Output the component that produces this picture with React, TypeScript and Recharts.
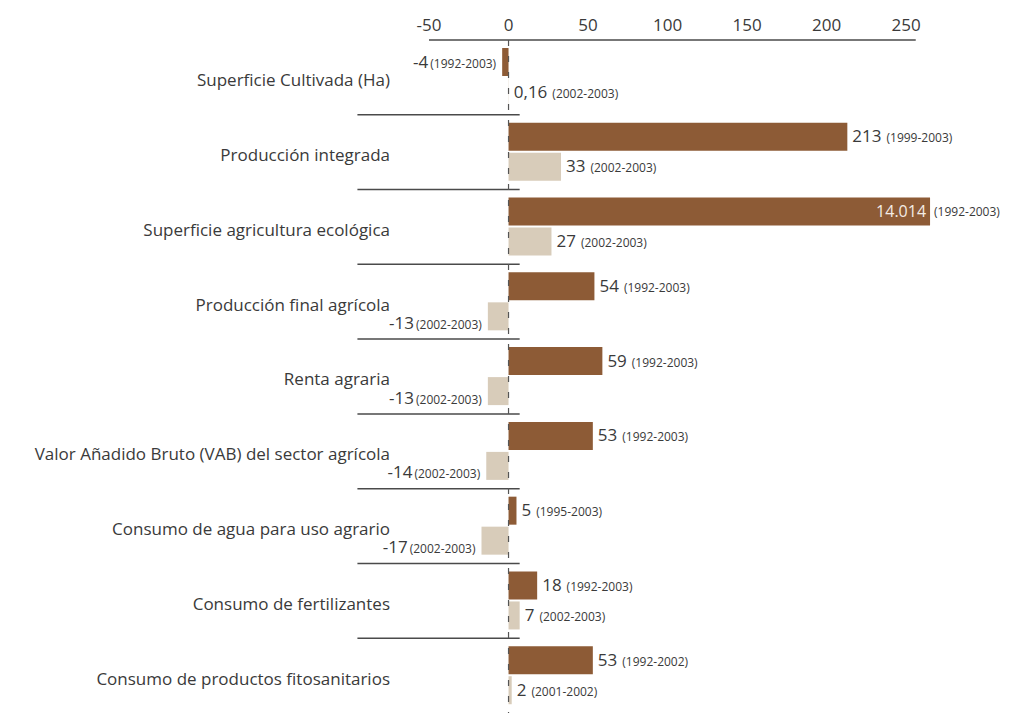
import React from 'react';
import { BarChart, Bar, XAxis, YAxis, ReferenceLine, LabelList } from 'recharts';

const categories = [
  'Superficie Cultivada (Ha)',
  'Producción integrada',
  'Superficie agricultura ecológica',
  'Producción final agrícola',
  'Renta agraria',
  'Valor Añadido Bruto (VAB) del sector agrícola',
  'Consumo de agua para uso agrario',
  'Consumo de fertilizantes',
  'Consumo de productos fitosanitarios',
];

// long period (dark bars); the 14.014 bar is drawn off-scale as in the original
const longValues = [-4, 213, 265, 54, 59, 53, 5, 18, 53];
const longLabels = ['-4', '213', '14.014', '54', '59', '53', '5', '18', '53'];
const longPeriods = ['1992-2003', '1999-2003', '1992-2003', '1992-2003', '1992-2003', '1992-2003', '1995-2003', '1992-2003', '1992-2002'];
const longLabelInside = [false, false, true, false, false, false, false, false, false];

// last year (light bars)
const shortValues = [0.16, 33, 27, -13, -13, -14, -17, 7, 2];
const shortLabels = ['0,16', '33', '27', '-13', '-13', '-14', '-17', '7', '2'];
const shortPeriods = ['2002-2003', '2002-2003', '2002-2003', '2002-2003', '2002-2003', '2002-2003', '2002-2003', '2002-2003', '2001-2002'];

const xTicks = [-50, 0, 50, 100, 150, 200, 250];

const DARK = '#8d5b36';
const LIGHT = '#d8ccba';
const TEXT = '#3a3a3a';
const LINE = '#4a4a4a';

const data = categories.map((name, i) => ({
  name,
  long: longValues[i],
  short: shortValues[i],
}));

const makeLabel = (labels: string[], periods: string[], inside?: boolean[], negDy = 0) => (props: any) => {
  const { x, y, width, height, index } = props;
  const val = labels[index];
  const period = `(${periods[index]})`;
  const left = Math.min(x, x + width);
  const right = Math.max(x, x + width);
  const cy = y + height / 2;
  const negative = val.startsWith('-');
  if (inside && inside[index]) {
    return (
      <g>
        <text x={right - 4} y={cy} dy="0.35em" textAnchor="end" fill="#f4ece4" fontSize={16}>{val}</text>
        <text x={right + 4} y={cy} dy="0.35em" fill={TEXT} fontSize={12}>{period}</text>
      </g>
    );
  }
  if (negative) {
    return (
      <text x={left - 6} y={cy + negDy} dy="0.35em" textAnchor="end" fill={TEXT}>
        <tspan fontSize={17}>{val}</tspan>
        <tspan fontSize={12} dx={2}>{period}</tspan>
      </text>
    );
  }
  return (
    <text x={right + 5} y={cy} dy="0.35em" fill={TEXT}>
      <tspan fontSize={17}>{val}</tspan>
      <tspan fontSize={12} dx={5}>{period}</tspan>
    </text>
  );
};

const CategoryTick = (props: any) => {
  const { x, y, payload } = props;
  return (
    <text x={x} y={y + 3} dy="0.35em" textAnchor="end" fill={TEXT} fontSize={17}>
      {payload.value}
    </text>
  );
};

export default function App() {
  return (
    <div style={{ width: 997, height: 705, background: '#fff', fontFamily: '"Open Sans", sans-serif' }}>
      <BarChart
        width={997}
        height={705}
        data={data}
        layout="vertical"
        margin={{ top: 2, right: 67, bottom: 0, left: 0 }}
        barCategoryGap={8}
        barGap={2}
      >
        <XAxis
          type="number"
          orientation="top"
          domain={[-50, 270]}
          ticks={xTicks}
          height={30}
          axisLine={false}
          tickLine={false}
          tickSize={6}
          tickMargin={3}
          tick={{ fontSize: 17, fill: TEXT }}
        />
        <YAxis
          type="category"
          dataKey="name"
          width={421}
          axisLine={false}
          tickLine={false}
          tickSize={0}
          tickMargin={39}
          tick={<CategoryTick />}
        />
        <ReferenceLine
          segment={[{ x: -50, y: categories[0] }, { x: 256, y: categories[0] }]}
          position="start"
          stroke={LINE}
          strokeWidth={1.5}
          ifOverflow="visible"
        />
        {categories.slice(1).map((c) => (
          <ReferenceLine
            key={c}
            segment={[{ x: -95, y: c }, { x: 7, y: c }]}
            position="start"
            stroke={LINE}
            strokeWidth={1.5}
            ifOverflow="visible"
          />
        ))}
        <ReferenceLine x={0} stroke="#555" strokeDasharray="6 10" strokeWidth={1.2} />
        <Bar dataKey="long" fill={DARK} isAnimationActive={false}>
          <LabelList content={makeLabel(longLabels, longPeriods, longLabelInside)} />
        </Bar>
        <Bar dataKey="short" fill={LIGHT} isAnimationActive={false}>
          <LabelList content={makeLabel(shortLabels, shortPeriods, undefined, 7)} />
        </Bar>
      </BarChart>
    </div>
  );
}
